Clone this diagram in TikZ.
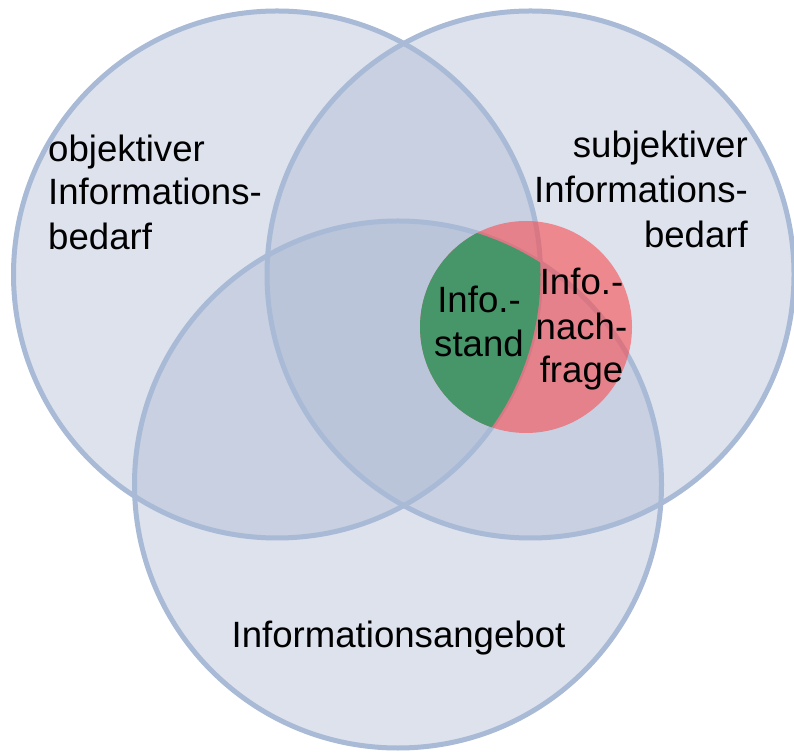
\documentclass[tikz,border=0pt]{standalone}
\usepackage{fontspec}
\setmainfont{Liberation Sans}
\definecolor{vennfill}{RGB}{166,181,208}
\definecolor{vennline}{RGB}{169,186,214}
\definecolor{infored}{RGB}{249,77,80}
\definecolor{infogreen}{RGB}{70,150,106}
\begin{document}
\begin{tikzpicture}[x=1pt,y=1pt,
  venn/.style={fill=vennfill, fill opacity=0.38},
  vennedge/.style={draw=vennline, line width=5pt},
  lbl/.style={font=\fontsize{36.6}{44}\selectfont, inner sep=0pt, text=black}]
\useasboundingbox (0,0) rectangle (794,752);
\fill[white] (0,0) rectangle (794,752);
\coordinate (cl) at (277,477.5);
\coordinate (cr) at (530.5,477.5);
\coordinate (cb) at (398,267.5);
\coordinate (ci) at (526,425);
% translucent fills
\path[venn] (cl) circle[radius=263.5];
\path[venn] (cr) circle[radius=263.5];
\path[venn] (cb) circle[radius=263.5];
% outlines
\path[vennedge] (cl) circle[radius=263.5];
\path[vennedge] (cr) circle[radius=263.5];
\path[vennedge] (cb) circle[radius=263.5];
% inner circle
\fill[infored, fill opacity=0.6] (ci) circle[radius=106];
\begin{scope}
  \clip (ci) circle[radius=106];
  \clip (cl) circle[radius=263.5];
  \fill[infogreen] (cb) circle[radius=263.5];
\end{scope}
% labels
\node[lbl, anchor=base west] (o1) at (48,590) {objektiver};
\node[lbl, anchor=base west] (o2) at (48,547) {Informations-};
\node[lbl, anchor=base west] (o3) at (48,502) {bedarf};
\node[lbl, anchor=base east] (s1) at (748,594) {subjektiver};
\node[lbl, anchor=base east] (s2) at (748,549) {Informations-};
\node[lbl, anchor=base east] (s3) at (748,504) {bedarf};
\node[lbl, anchor=base] (a1) at (398.5,105) {Informationsangebot};
\node[lbl, anchor=base] (g1) at (479,439) {Info.-};
\node[lbl, anchor=base] (g2) at (479,395) {stand};
\node[lbl, anchor=base] (r1) at (581.5,457) {Info.-};
\node[lbl, anchor=base] (r2) at (581.5,412) {nach-};
\node[lbl, anchor=base] (r3) at (581.5,369) {frage};
\end{tikzpicture}
\end{document}
